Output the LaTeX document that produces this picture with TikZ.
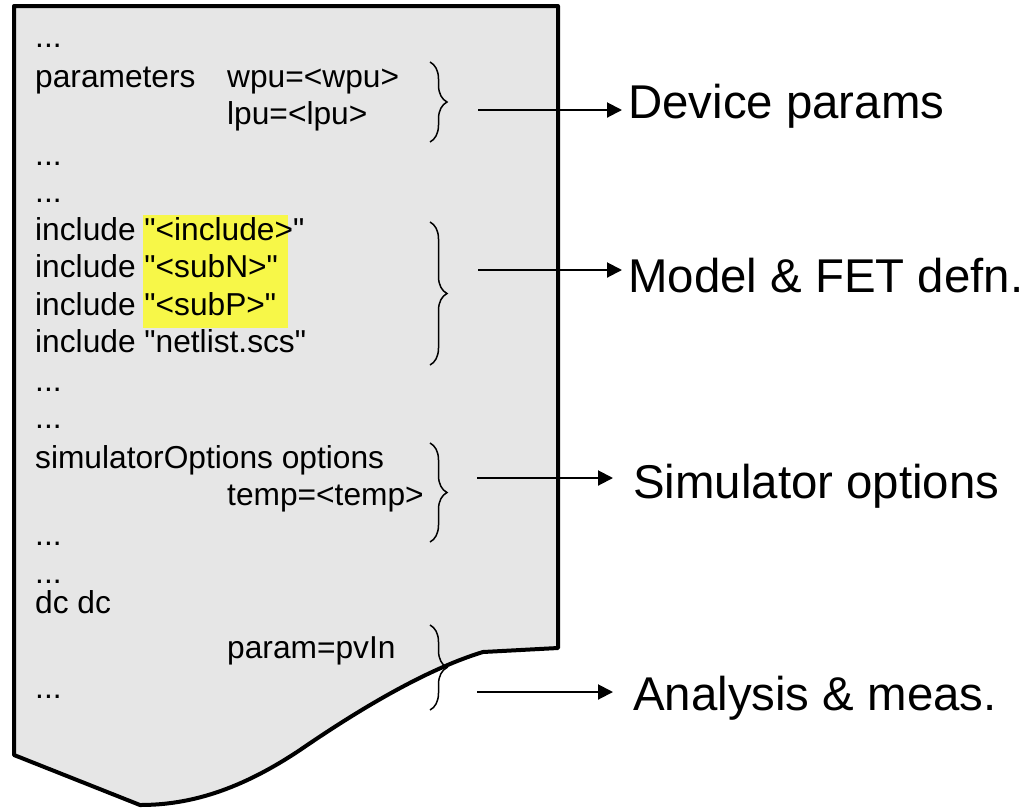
\documentclass[tikz,border=0pt]{standalone}
\usepackage{fontspec}
\setmainfont{Liberation Sans}[Ligatures=TeXOff]
\usetikzlibrary{arrows.meta,decorations.pathreplacing}
\definecolor{pagebg}{RGB}{230,230,230}
\definecolor{hl}{RGB}{247,247,72}
\newcommand{\sq}{\char"22\relax}
\begin{document}
\begin{tikzpicture}[x=1pt,y=-1pt,
  code/.style={anchor=base west,inner sep=0pt,font=\fontsize{31.7}{36}\selectfont},
  big/.style={anchor=base west,inner ysep=0pt,font=\fontsize{47.4}{56}\selectfont},
  brc/.style={decorate,decoration={brace,amplitude=17pt},line width=1.5pt},
  arr/.style={-{Triangle[length=15pt,width=15pt]},line width=2pt},
  pageedge/.style={line width=4pt,line join=round,fill=pagebg}]
\useasboundingbox (0,0) rectangle (1028,807);
% page outline
\draw[pageedge] (14,6) -- (558,6) -- (558,648) -- (483,652)
  .. controls (440,665) and (380,695) .. (300,750)
  .. controls (240,790) and (190,805) .. (140,805)
  -- (14,755) -- cycle;
% highlight
\fill[hl] (143,215) rectangle (288,328);
% code lines
\node[code] (l1) at (35,47) {...};
\node[code] (l2) at (35,87) {parameters};
\node[code] (l2b) at (227,87) {wpu=<wpu>};
\node[code] (l3) at (227,124) {lpu=<lpu>};
\node[code] (l4) at (35,165) {...};
\node[code] (l5) at (35,202) {...};
\node[code] (l6) at (35,240) {include \sq<include>\sq};
\node[code] (l7) at (35,277) {include \sq<subN>\sq};
\node[code] (l8) at (35,315) {include \sq<subP>\sq};
\node[code] (l9) at (35,352) {include \sq netlist.scs\sq};
\node[code] (l10) at (35,391) {...};
\node[code] (l11) at (35,428) {...};
\node[code] (l12) at (35,468) {simulatorOptions options};
\node[code] (l13) at (227,505) {temp=<temp>};
\node[code] (l14) at (35,545) {...};
\node[code] (l15) at (35,583) {...};
\node[code] (l16) at (35,613) {dc dc};
\node[code] (l17) at (227,658) {param=pvIn};
\node[code] (l18) at (35,698) {...};
% braces
\coordinate (b1t) at (430,62);  \coordinate (b1b) at (430,142);
\coordinate (b2t) at (430,222); \coordinate (b2b) at (430,365);
\coordinate (b3t) at (430,443); \coordinate (b3b) at (430,542);
\coordinate (b4t) at (430,625); \coordinate (b4b) at (430,710);
\draw[brc] (b1t) -- (b1b);
\draw[brc] (b2t) -- (b2b);
\draw[brc] (b3t) -- (b3b);
\draw[brc] (b4t) -- (b4b);
% labels
\node[big,inner xsep=6pt] (d1) at (622,118) {Device params};
\node[big,inner xsep=6pt] (d2) at (622,292) {Model \& FET defn.};
\node[big,inner xsep=20pt] (d3) at (613,498) {Simulator options};
\node[big,inner xsep=20pt] (d4) at (613,710) {Analysis \& meas.};
% arrows
\coordinate (s1) at (478,110);
\coordinate (s2) at (478,270);
\coordinate (s3) at (477,478);
\coordinate (s4) at (477,692);
\draw[arr] (s1) -- (s1 -| d1.west);
\draw[arr] (s2) -- (s2 -| d2.west);
\draw[arr] (s3) -- (s3 -| d3.west);
\draw[arr] (s4) -- (s4 -| d4.west);
\end{tikzpicture}
\end{document}
